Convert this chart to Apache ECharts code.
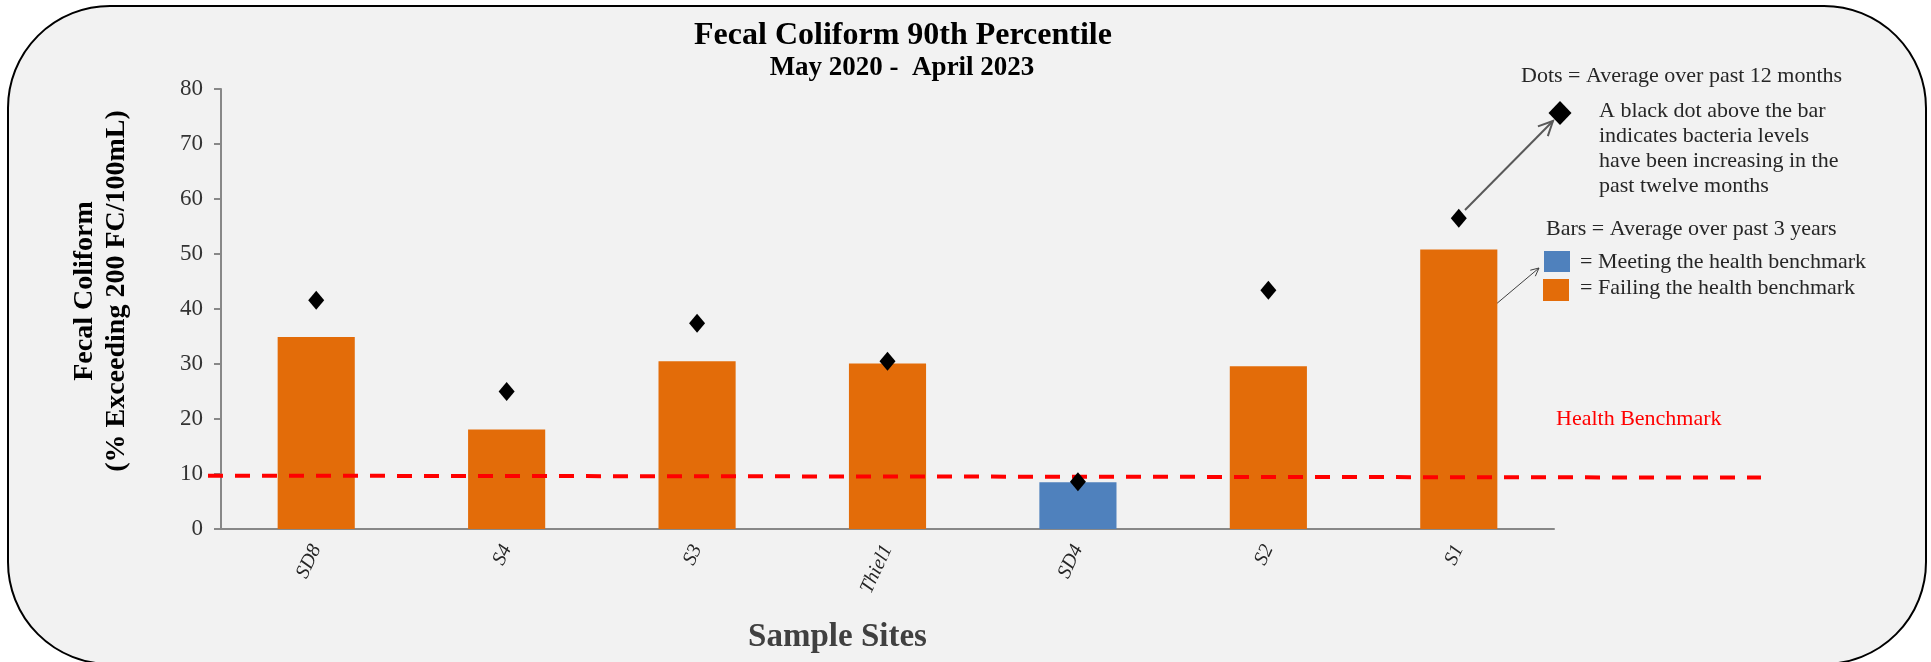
<!DOCTYPE html>
<html>
<head>
<meta charset="utf-8">
<script src="https://cdn.jsdelivr.net/npm/echarts@6/dist/echarts.min.js"></script>
<style>
  html, body { margin: 0; padding: 0; background: #fff; }
  #chart { width: 1931px; height: 662px; }
</style>
</head>
<body>
<div id="chart"></div>
<script>
// data
var sites = ['SD8', 'S4', 'S3', 'Thiel1', 'SD4', 'S2', 'S1'];
var threeYearAvg = [34.9, 18.1, 30.5, 30.1, 8.5, 29.6, 50.8];
var twelveMonthAvg = [41.6, 25.0, 37.4, 30.5, 8.6, 43.4, 56.5];
var benchmark = 10;
var benchmarkLine = [[0, 9.7], [1, 9.35]];
var yMin = 0, yMax = 80, yStep = 10;

var serif = "'Liberation Serif', 'Times New Roman', serif";
var orange = '#E36C09';
var blue = '#4F81BD';

var chartDom = document.getElementById('chart');
var chart = echarts.init(chartDom);

var barData = [];
for (var i = 0; i < threeYearAvg.length; i++) {
  barData.push({
    value: threeYearAvg[i],
    itemStyle: { color: threeYearAvg[i] < benchmark ? blue : orange }
  });
}

function arrow(x1, y1, x2, y2, len, color, width) {
  var a = Math.atan2(y2 - y1, x2 - x1);
  var ang = 0.45;
  return [
    { type: 'line', shape: { x1: x1, y1: y1, x2: x2, y2: y2 }, style: { stroke: color, lineWidth: width } },
    {
      type: 'polyline',
      shape: { points: [
        [x2 - len * Math.cos(a - ang), y2 - len * Math.sin(a - ang)],
        [x2, y2],
        [x2 - len * Math.cos(a + ang), y2 - len * Math.sin(a + ang)]
      ] },
      style: { stroke: color, lineWidth: width, fill: null }
    }
  ];
}

function label(x, y, text, size, color) {
  return {
    type: 'text', x: x, y: y,
    style: { text: text, font: size + 'px ' + serif, fill: color || '#262626', textVerticalAlign: 'middle' }
  };
}

var graphics = [
  { type: 'rect', z: -10, shape: { x: 8, y: 6, width: 1918, height: 658, r: 102 },
    style: { fill: '#f2f2f2', stroke: '#000', lineWidth: 2 } },
  label(1521, 76, 'Dots = Average over past 12 months', 22),
  { type: 'polygon', shape: { points: [[1560, 101], [1571.5, 113], [1560, 125], [1548.5, 113]] }, style: { fill: '#000' } },
  {
    type: 'text', x: 1599, y: 98.5,
    style: {
      text: 'A black dot above the bar\nindicates bacteria levels\nhave been increasing in the\npast twelve months',
      font: '22px ' + serif, fill: '#262626', lineHeight: 25, textVerticalAlign: 'top'
    }
  },
  label(1546, 229, 'Bars = Average over past 3 years', 22),
  { type: 'rect', shape: { x: 1544, y: 251, width: 26, height: 21 }, style: { fill: blue } },
  { type: 'rect', shape: { x: 1543, y: 279, width: 26, height: 22 }, style: { fill: orange } },
  label(1580, 262, '= Meeting the health benchmark', 22),
  label(1580, 288, '= Failing the health benchmark', 22),
  label(1556, 419, 'Health Benchmark', 22, '#ff0000')
];
graphics = graphics.concat(arrow(1465, 210, 1553, 121, 16, '#595959', 2));
graphics = graphics.concat(arrow(1495, 305, 1539, 268, 9, '#404040', 1));

var option = {
  backgroundColor: 'transparent',
  title: [
    {
      text: 'Fecal Coliform 90th Percentile',
      left: 898, top: 15, textAlign: 'center',
      textStyle: { fontFamily: serif, fontWeight: 'bold', fontSize: 32, color: '#000' }
    },
    {
      text: 'May 2020 -  April 2023',
      left: 897, top: 50, textAlign: 'center',
      textStyle: { fontFamily: serif, fontWeight: 'bold', fontSize: 27, color: '#000' }
    }
  ],
  grid: [
    { left: 221, right: 377, top: 89, bottom: 133 },
    { left: 208, right: 170, top: 89, bottom: 133 }
  ],
  xAxis: [
    {
      type: 'category',
      data: sites,
      gridIndex: 0,
      name: 'Sample Sites',
      nameLocation: 'middle',
      nameGap: 92,
      nameTextStyle: { fontFamily: serif, fontWeight: 'bold', fontSize: 33, color: '#404040', padding: [0, 100, 0, 0] },
      axisLine: { lineStyle: { color: '#888', width: 2 } },
      axisTick: { length: 7, lineStyle: { color: '#888', width: 2 } },
      axisLabel: { rotate: 65, margin: 17, fontFamily: serif, fontStyle: 'italic', fontSize: 20, color: '#262626' }
    },
    { type: 'value', gridIndex: 1, min: 0, max: 1, show: false }
  ],
  yAxis: [
    {
      type: 'value',
      gridIndex: 0,
      min: yMin, max: yMax, interval: yStep,
      name: 'Fecal Coliform\n(% Exceeding 200 FC/100mL)',
      nameLocation: 'middle',
      nameGap: 88,
      nameTextStyle: { fontFamily: serif, fontWeight: 'bold', fontSize: 28, color: '#000', lineHeight: 32, padding: [0, 0, 0, 36] },
      splitLine: { show: false },
      axisLine: { show: true, lineStyle: { color: '#888', width: 2 } },
      axisTick: { show: true, length: 7, lineStyle: { color: '#888', width: 2 } },
      axisLabel: { margin: 18, fontFamily: serif, fontSize: 23, color: '#333' }
    },
    { type: 'value', gridIndex: 1, min: yMin, max: yMax, show: false }
  ],
  series: [
    {
      name: 'Average over past 3 years',
      type: 'bar',
      xAxisIndex: 0, yAxisIndex: 0,
      barWidth: '40.5%',
      data: barData,
      z: 2
    },
    {
      name: 'Average over past 12 months',
      type: 'scatter',
      xAxisIndex: 0, yAxisIndex: 0,
      symbol: 'diamond',
      symbolSize: [16, 19],
      itemStyle: { color: '#000', opacity: 1 },
      data: twelveMonthAvg,
      z: 4
    },
    {
      name: 'Health Benchmark',
      type: 'line',
      xAxisIndex: 1, yAxisIndex: 1,
      symbol: 'none',
      lineStyle: { color: '#ff0000', width: 4, type: [15, 12] },
      data: benchmarkLine,
      z: 3
    }
  ],
  graphic: graphics,
  animation: false
};

chart.setOption(option);
</script>
</body>
</html>
